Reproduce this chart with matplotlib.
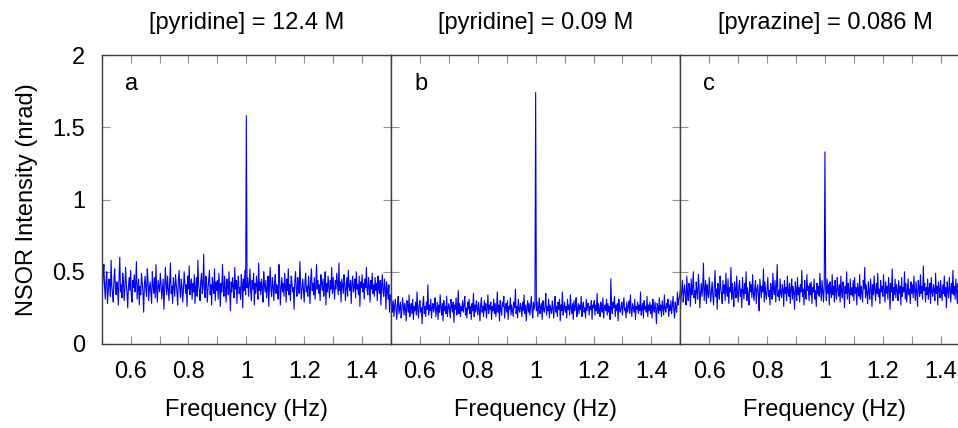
import numpy as np
import matplotlib
matplotlib.use('Agg')
import matplotlib.pyplot as plt

plt.rcParams['font.family'] = ['Liberation Sans', 'DejaVu Sans']

titles = ['[pyridine] = 12.4 M', '[pyridine] = 0.09 M', '[pyrazine] = 0.086 M']
panel_tags = ['a', 'b', 'c']

# NSOR signal in hundredths of nrad, 401 points from 0.5 to 1.5 Hz (peak at 1.0 Hz)
sig_a = """
42 36 48 55 39 31 44 50 28 37 45 41 33 58 40 35 29 46 52 38
34 43 39 27 47 60 36 41 32 49 44 30 38 53 42 35 25 40 46 37
51 33 29 44 39 48 36 42 57 31 38 45 27 40 34 49 43 36 22 41
47 38 33 52 45 30 39 43 36 28 50 41 35 46 32 55 38 29 44 40
36 49 42 31 38 45 24 37 53 41 34 47 39 30 43 56 35 40 28 46
39 33 48 42 36 27 44 51 38 32 45 40 29 37 50 43 35 41 26 47
38 54 34 40 45 31 42 36 48 28 39 46 33 58 41 37 30 44 49 35
40 62 37 32 47 43 29 38 45 51 34 41 27 46 39 35 52 30 43 37
44 31 49 39 26 42 36 55 40 33 47 38 29 45 41 34 50 37 23 43
36 46 40 32 53 38 44 28 41 47 35 39 31 48 42 25 45 37 51 34
158 39 46 33 41 52 36 30 44 38 49 27 42 35 47 40 31 56 37 43
34 45 39 29 50 41 36 44 32 38 47 26 42 53 37 33 46 40 30 43
48 35 41 38 31 55 44 27 39 46 36 42 33 49 40 29 45 37 52 34
41 30 47 43 36 39 24 44 50 38 33 46 41 35 57 42 31 38 45 37
29 43 49 36 40 33 47 39 28 45 52 37 42 34 46 31 40 55 38 44
35 41 30 48 43 37 45 33 39 50 27 42 36 47 40 32 44 38 53 35
46 39 31 44 38 49 41 34 56 37 43 29 45 40 35 48 42 30 39 46
33 51 40 37 44 28 42 47 36 39 45 32 50 38 41 34 47 26 43 39
48 36 42 31 45 39 53 37 34 46 40 29 44 38 49 35 41 33 46 37
42 30 47 38 35 44 27 40 48 36 33 45 39 24 43 37 31 41 22 34
30
"""

sig_b = """
35 28 22 30 19 26 31 24 17 27 33 21 25 29 18 23 32 26 20 28
24 16 30 27 22 34 19 25 28 21 31 17 26 23 29 20 36 24 18 27
30 22 25 14 28 33 21 26 19 29 24 41 20 27 23 31 18 25 28 22
26 32 19 24 29 17 27 22 34 25 20 28 16 30 23 26 21 33 19 25
28 23 18 31 26 22 29 15 27 24 32 20 25 37 21 28 19 26 23 30
22 27 33 20 25 18 29 24 31 21 26 17 28 23 35 19 27 22 30 25
20 29 24 16 27 32 22 26 19 30 23 28 18 25 34 21 27 24 29 17
26 23 31 21 28 19 25 36 22 27 16 30 24 20 29 26 33 18 25 28
22 30 17 26 24 32 20 27 23 19 29 25 38 21 26 18 31 24 22 28
25 19 29 23 34 21 27 16 25 30 22 28 20 26 33 23 18 29 24 27
174 23 29 19 26 32 21 25 28 17 30 24 22 27 35 20 26 23 31 18
27 24 21 30 25 18 28 33 22 26 19 29 24 31 16 27 23 36 20 25
29 22 26 18 31 24 27 20 34 25 21 28 17 30 23 26 32 19 24 28
21 27 24 33 19 26 29 22 25 18 31 23 28 28 20 26 24 30 17 27
25 30 20 27 23 35 21 28 24 19 29 26 22 32 18 25 27 23 31 20
28 22 26 17 45 24 21 29 25 33 19 27 23 28 16 31 24 22 26 29
20 27 32 23 25 18 29 22 26 30 21 34 24 19 28 25 22 31 17 26
24 29 21 27 23 36 20 25 28 18 30 24 26 22 33 19 27 23 29 21
27 18 31 25 22 29 24 14 28 26 21 32 23 27 19 30 25 20 34 24
22 28 25 31 19 27 23 30 21 26 33 24 18 29 25 22 36 27 31 33
37
"""

sig_c = """
22 31 38 44 29 36 41 33 27 47 35 30 42 38 26 45 34 39 50 32
37 28 43 36 31 48 40 25 35 42 33 39 56 30 37 44 28 41 35 32
46 38 29 36 43 34 27 40 51 33 38 24 42 36 31 47 39 34 28 44
35 41 30 49 37 33 45 28 39 36 53 31 42 35 26 43 38 32 47 36
29 40 44 33 38 25 46 37 31 42 35 50 30 39 34 27 43 36 41 32
48 35 30 39 44 28 37 41 34 23 45 38 32 40 36 52 29 43 35 31
39 46 33 37 27 42 36 31 49 38 34 44 29 40 55 33 37 30 45 35
32 41 38 26 44 35 39 30 47 36 33 42 28 38 45 31 40 35 24 43
37 30 46 34 39 29 41 36 51 33 38 27 44 35 31 48 37 40 30 42
34 43 28 39 36 45 31 37 26 42 35 40 33 49 38 30 44 36 29 41
133 38 30 45 35 41 27 43 37 32 48 34 40 29 44 36 31 46 38 33
41 29 47 36 32 43 38 25 40 35 50 31 42 37 28 45 34 39 33 44
30 46 35 39 27 42 37 33 48 31 40 36 29 44 38 53 32 41 35 28
43 36 31 45 39 26 41 34 47 37 30 42 35 49 33 38 28 44 36 40
33 48 37 29 43 35 40 31 46 38 24 42 36 52 30 39 34 45 32 41
37 30 44 35 40 27 46 33 39 36 50 31 42 29 37 45 34 38 28 43
35 41 32 47 37 30 43 36 26 44 39 33 48 35 40 31 54 37 42 29
39 34 45 31 38 42 28 46 36 33 41 37 30 49 35 40 27 43 38 32
44 36 30 41 35 47 33 39 25 43 37 32 46 38 29 42 35 51 34 40
31 45 37 28 42 36 33 48 30 39 35 43 27 41 36 32 47 22 38 34
38
"""

signals = []
for s in [sig_a, sig_b, sig_c]:
    v = np.array(s.split(), dtype=float) / 100.0
    assert len(v) == 401, len(v)
    signals.append(v)

fig = plt.figure(figsize=(9.58, 4.28), dpi=100)
W, H = 958.0, 428.0
lefts = [101.7, 391.0, 680.3]
pw = 289.3
fs = 17

for i in range(3):
    y = signals[i]
    freq = np.linspace(0.5, 1.5, len(y))
    ax = fig.add_axes([lefts[i] / W, 84 / H, pw / W, 289 / H])
    ax.plot(freq, y, color='#0000f0', lw=0.8)
    ax.set_xlim(0.5, 1.5)
    ax.set_ylim(0, 2)
    xt = np.arange(0.5, 1.51, 0.1).round(1)
    ax.set_xticks(xt)
    ax.set_xticklabels(['' if k % 2 == 0 else f'{v:g}' for k, v in enumerate(xt)])
    ax.set_yticks([0, 0.5, 1, 1.5, 2])
    ax.tick_params(direction='in', length=6, color='#909090', top=True, right=True,
                   labelsize=fs, pad=12)
    if i == 0:
        ax.set_yticklabels(['0', '0.5', '1', '1.5', '2'])
        ax.set_ylabel('NSOR Intensity (nrad)', fontsize=fs, labelpad=10)
    else:
        ax.set_yticklabels([])
    for s in ax.spines.values():
        s.set_color('#404040')
        s.set_linewidth(1.0)
    ax.set_title(titles[i], fontsize=fs, pad=19)
    ax.set_xlabel('Frequency (Hz)', fontsize=fs, labelpad=12)
    ax.text(0.08, 0.88, panel_tags[i], transform=ax.transAxes, fontsize=fs)

fig.savefig('out.png', dpi=100)
